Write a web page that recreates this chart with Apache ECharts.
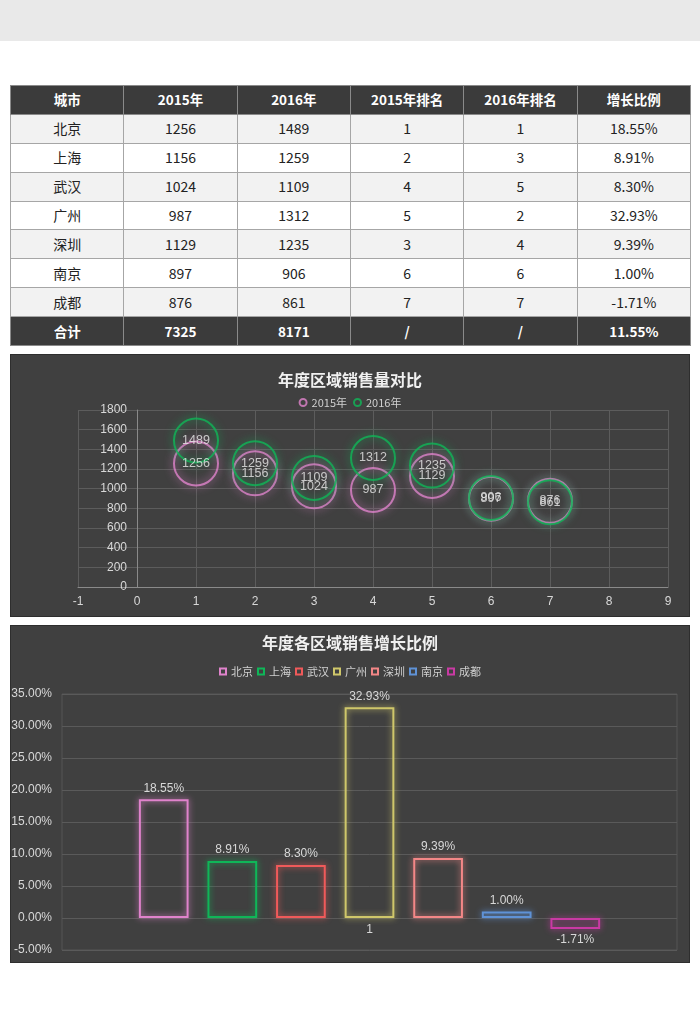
<!DOCTYPE html>
<html>
<head>
<meta charset="utf-8">
<script src="https://cdn.jsdelivr.net/npm/echarts@6/dist/echarts.min.js"></script>
<style>
  html, body { margin: 0; padding: 0; background: #ffffff; width: 700px; height: 1030px; overflow: hidden; }
  #band { position: absolute; left: 0; top: 0; width: 700px; height: 41px; background: #e9e9e9; }
  #tbl { position: absolute; left: 10px; top: 85px; width: 681px; border-collapse: collapse; table-layout: fixed;
         font-family: "Noto Sans CJK SC", "Microsoft YaHei", sans-serif; font-size: 14px; color: #222; }
  #tbl td, #tbl th { border: 1px solid #a6a6a6; height: 27.9px; padding: 0; text-align: center; line-height: 27px; }
  #tbl th, #tbl tr.total td { background: #3b3b3b; color: #ffffff; font-weight: bold; font-size: 13.5px; border-color: #8a8a8a; }
  #tbl tr.odd td { background: #f2f2f2; }
  #tbl tr.even td { background: #ffffff; }
  .panel { position: absolute; left: 10px; width: 680px; background: #404040; box-sizing: border-box; border: 1px solid #2e2e2e; }
  #c1 { top: 354px; height: 263px; }
  #c2 { top: 625px; height: 338px; }
</style>
</head>
<body>
<div id="band"></div>
<table id="tbl"></table>
<div id="c1" class="panel"></div>
<div id="c2" class="panel"></div>
<script>
// ---- data ----
const headers = ['城市', '2015年', '2016年', '2015年排名', '2016年排名', '增长比例'];
const cities = ['北京', '上海', '武汉', '广州', '深圳', '南京', '成都'];
const sales2015 = [1256, 1156, 1024, 987, 1129, 897, 876];
const sales2016 = [1489, 1259, 1109, 1312, 1235, 906, 861];
const rank2015 = [1, 2, 4, 5, 3, 6, 7];
const rank2016 = [1, 3, 5, 2, 4, 6, 7];
const growth = [0.1855, 0.0891, 0.0830, 0.3293, 0.0939, 0.0100, -0.0171];
const totalRow = ['合计', '7325', '8171', '/', '/', '11.55%'];
const bubbleX = [1, 2, 3, 4, 5, 6, 7];
const yTicks = [0, 1800, 200];
const xTicks = [-1, 9, 1];
const pctTicks = [-0.05, 0.35, 0.05];
const barCategory = ['1'];

// ---- table ----
const tbl = document.getElementById('tbl');
let html = '<tr>' + headers.map(h => '<th>' + h + '</th>').join('') + '</tr>';
cities.forEach((c, i) => {
  html += '<tr class="' + (i % 2 === 0 ? 'odd' : 'even') + '"><td>' + c + '</td><td>' + sales2015[i] + '</td><td>' +
    sales2016[i] + '</td><td>' + rank2015[i] + '</td><td>' + rank2016[i] + '</td><td>' + (growth[i] * 100).toFixed(2) + '%</td></tr>';
});
html += '<tr class="total">' + totalRow.map(t => '<td>' + t + '</td>').join('') + '</tr>';
tbl.innerHTML = html;

const FONT = '"Liberation Sans", Arial, "Noto Sans CJK SC", sans-serif';
const TFONT = '"Noto Sans CJK SC", "Microsoft YaHei", sans-serif';

// ---- chart 1 ----
const c1 = echarts.init(document.getElementById('c1'));
const pink = '#e083cc', green = '#0fb658';
function bubbleSeries(name, vals, color) {
  return {
    name: name, type: 'scatter', symbol: 'circle', symbolSize: 44,
    data: vals.map((v, i) => [bubbleX[i], v]),
    itemStyle: { color: 'rgba(0,0,0,0)', borderColor: color, borderWidth: 2, shadowBlur: 8, shadowColor: color },
    label: { show: true, position: 'inside', color: '#e8e8e8', fontSize: 12.5, fontFamily: FONT,
             formatter: p => p.value[1] },
    emphasis: { disabled: true }
  };
}
const g1 = { left: 67, right: 21, top: 55, bottom: 29 };
const plotW1 = 680 - 2 - g1.left - g1.right;
c1.setOption({
  animation: false,
  title: { text: '年度区域销售量对比', left: 'center', top: 12,
           textStyle: { color: '#f0f0f0', fontSize: 16, fontWeight: 'bold', fontFamily: TFONT } },
  legend: { top: 37, left: 'center', itemWidth: 7, itemHeight: 7, itemGap: 6, icon: 'circle',
            textStyle: { color: '#d0d0d0', fontSize: 11, fontFamily: TFONT } },
  grid: Object.assign({ outerBoundsMode: 'none', containLabel: false }, g1),
  xAxis: { type: 'value', min: xTicks[0], max: xTicks[1], interval: xTicks[2],
           axisLine: { show: true, onZero: false, lineStyle: { color: '#8a8a8a', width: 1 } },
           axisTick: { show: false },
           axisLabel: { color: '#d8d8d8', fontSize: 12, fontFamily: FONT, margin: 9 },
           splitLine: { show: true, lineStyle: { color: '#5c5c5c' } } },
  yAxis: { type: 'value', min: yTicks[0], max: yTicks[1], interval: yTicks[2],
           offset: -plotW1 * (0 - xTicks[0]) / (xTicks[1] - xTicks[0]),
           axisLine: { show: true, onZero: false, lineStyle: { color: '#8a8a8a', width: 1 } },
           axisTick: { show: false },
           axisLabel: { color: '#d8d8d8', fontSize: 12, fontFamily: FONT, margin: 10, formatter: v => String(v) },
           splitLine: { show: true, lineStyle: { color: '#5c5c5c' } } },
  series: [bubbleSeries('2015年', sales2015, pink), bubbleSeries('2016年', sales2016, green)]
});

// ---- chart 2 ----
const c2 = echarts.init(document.getElementById('c2'));
const barColors = ['#e083cc', '#0fb658', '#f05a5a', '#cfc76a', '#f38787', '#5f92d6', '#c93aa4'];
const g2 = { left: 51, right: 12, top: 68, bottom: 12 };
const plotH2 = 338 - 2 - g2.top - g2.bottom;
c2.setOption({
  animation: false,
  title: { text: '年度各区域销售增长比例', left: 'center', top: 4,
           textStyle: { color: '#f0f0f0', fontSize: 16, fontWeight: 'bold', fontFamily: TFONT } },
  legend: { top: 35, left: 'center', itemWidth: 6, itemHeight: 6, itemGap: 4, icon: 'rect',
            textStyle: { color: '#d0d0d0', fontSize: 11, fontFamily: TFONT } },
  grid: Object.assign({ outerBoundsMode: 'none', containLabel: false, show: true, borderColor: '#555555', borderWidth: 1 }, g2),
  xAxis: { type: 'category', data: barCategory,
           offset: -plotH2 * (0 - pctTicks[0]) / (pctTicks[1] - pctTicks[0]),
           axisLine: { show: false, onZero: false }, axisTick: { show: false },
           axisLabel: { color: '#d8d8d8', fontSize: 12, fontFamily: FONT, margin: 6 },
           splitLine: { show: false } },
  yAxis: { type: 'value', min: pctTicks[0], max: pctTicks[1], interval: pctTicks[2],
           axisLine: { show: false }, axisTick: { show: false },
           axisLabel: { color: '#d8d8d8', fontSize: 12, fontFamily: FONT, margin: 10,
                        formatter: v => (v * 100).toFixed(2) + '%' },
           splitLine: { show: true, lineStyle: { color: '#5a5a5a' } } },
  series: cities.map((c, i) => ({
    name: c, type: 'bar', barGap: '38%', barCategoryGap: '25%',
    data: [growth[i]],
    itemStyle: { color: 'rgba(0,0,0,0)', borderColor: barColors[i], borderWidth: 2, shadowBlur: 6, shadowColor: barColors[i] },
    label: { show: true, position: growth[i] >= 0 ? 'top' : 'bottom', color: '#d8d8d8', fontSize: 12, fontFamily: FONT,
             formatter: p => (p.value * 100).toFixed(2) + '%' },
    emphasis: { disabled: true }
  }))
});
</script>
</body>
</html>
